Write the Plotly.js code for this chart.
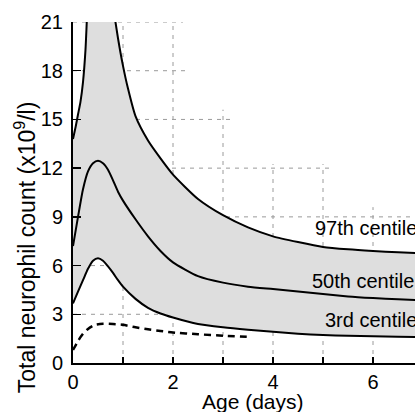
<!DOCTYPE html>
<html>
<head>
<meta charset="utf-8">
<script src="https://cdn.plot.ly/plotly-3.0.1.min.js"></script>
<style>html,body{margin:0;padding:0;background:#fff;}#chart{width:415px;height:412px;}</style>
</head>
<body>
<div id="chart"></div>
<script>
// Age (days) and centile values (x10^9/l)
const age97 = [0, 0.05, 0.1, 0.15, 0.2, 0.25, 0.3, 0.4, 0.5, 0.6, 0.7, 0.8, 0.9, 1.0, 1.1, 1.25, 1.5, 1.75, 2, 2.5, 3, 3.5, 4, 4.5, 5, 5.5, 6, 6.5, 7];
const c97 = [13.8, 14.5, 15.3, 16.1, 17.3, 19.3, 22.5, 25.5, 26.5, 26, 24.2, 22, 20, 18.3, 16.9, 15.2, 13.7, 12.6, 11.6, 10.1, 9.1, 8.35, 7.8, 7.45, 7.15, 7.0, 6.9, 6.82, 6.75];

const age50 = [0, 0.1, 0.2, 0.3, 0.4, 0.5, 0.6, 0.7, 0.8, 0.9, 1.0, 1.25, 1.5, 1.75, 2, 2.5, 3, 3.5, 4, 4.5, 5, 5.5, 6, 6.5, 7];
const c50 = [7.2, 9.0, 10.7, 11.8, 12.3, 12.45, 12.3, 11.9, 11.25, 10.55, 10.0, 8.85, 7.8, 6.9, 6.2, 5.35, 4.95, 4.7, 4.55, 4.4, 4.25, 4.1, 4.0, 3.92, 3.85];

const age3 = [0, 0.1, 0.2, 0.3, 0.4, 0.5, 0.6, 0.7, 0.8, 0.9, 1.0, 1.25, 1.5, 1.75, 2, 2.5, 3, 3.5, 4, 4.5, 5, 5.5, 6, 6.5, 7];
const c3 = [3.67, 4.4, 5.1, 5.8, 6.3, 6.45, 6.3, 5.95, 5.55, 5.1, 4.7, 3.95, 3.4, 3.05, 2.8, 2.4, 2.2, 2.05, 1.92, 1.8, 1.72, 1.68, 1.65, 1.62, 1.6];

const ageLow = [0, 0.1, 0.2, 0.3, 0.44, 0.6, 0.8, 1.0, 1.25, 1.5, 1.75, 2, 2.5, 3, 3.54];
const cLow = [0.8, 1.35, 1.8, 2.1, 2.35, 2.42, 2.4, 2.35, 2.2, 2.08, 1.97, 1.88, 1.77, 1.68, 1.6];

const centileLabels = ["97th centile", "50th centile", "3rd centile"];
const xTickVals = [0, 2, 4, 6];
const xTickText = ["0", "2", "4", "6"];
const xMinorTickVals = [1, 3, 5];
const yTickVals = [0, 3, 6, 9, 12, 15, 18, 21];
const yTickText = ["0", "3", "6", "9", "12", "15", "18", "21"];
const xTitle = "Age (days)";
const yTitle = "Total neurophil count (x10<sup>9</sup>/l)";

// staircase grid (layout geometry)
const gridXs = [1, 2, 3, 4, 5, 6];
const gridXTop = [21.5, 21.5, 15.6, 12.25, 12.25, 9.6];
const gridYs = [3, 6, 9, 12, 15, 18, 21];
const gridYRight = [7, 7, 7, 5.2, 3.24, 2.24, 2.2];

const FONT = "Liberation Sans, Arial, Helvetica, sans-serif";
const lineStyle = {color: "#000", width: 2, shape: "spline", smoothing: 0.6};

const traces = [
  {x: age3, y: c3, mode: "lines", line: lineStyle, hoverinfo: "skip", showlegend: false},
  {x: age97, y: c97, mode: "lines", line: lineStyle, fill: "tonexty", fillcolor: "#dedede", hoverinfo: "skip", showlegend: false},
  {x: age50, y: c50, mode: "lines", line: lineStyle, hoverinfo: "skip", showlegend: false},
  {x: ageLow, y: cLow, mode: "lines", line: {color: "#000", width: 2.5, dash: "7px,5px", shape: "spline", smoothing: 0.6}, hoverinfo: "skip", showlegend: false}
];

const shapes = [];
gridXs.forEach((gx, i) => shapes.push({type: "line", layer: "below", xref: "x", yref: "y", x0: gx, x1: gx, y0: 0, y1: gridXTop[i], line: {color: "#9a9a9a", width: 1, dash: "4px,5px"}}));
gridYs.forEach((gy, i) => shapes.push({type: "line", layer: "below", xref: "x", yref: "y", x0: 0, x1: gridYRight[i], y0: gy, y1: gy, line: {color: "#9a9a9a", width: 1, dash: "4px,5px"}}));

const labelPos = [[4.79, 8.3], [4.74, 5.05], [4.99, 2.65]];
const annotations = centileLabels.map((t, i) => ({
  text: t, x: labelPos[i][0], y: labelPos[i][1], xref: "x", yref: "y",
  xanchor: "left", yanchor: "middle", showarrow: false,
  font: {family: FONT, size: 20, color: "#000"}
}));
annotations.push({
  text: yTitle, textangle: -90,
  xref: "paper", yref: "paper", x: -0.14, y: 0.34, xanchor: "center", yanchor: "middle",
  showarrow: false, font: {family: FONT, size: 23, color: "#000"}
});
annotations.push({
  text: xTitle,
  xref: "paper", yref: "paper", x: 0.526, y: -0.114, xanchor: "center", yanchor: "middle",
  showarrow: false, font: {family: FONT, size: 21, color: "#000"}
});

const layout = {
  width: 415, height: 412,
  margin: {l: 73, r: 0, t: 22, b: 49, pad: 0},
  paper_bgcolor: "#fff", plot_bgcolor: "#fff",
  showlegend: false,
  font: {family: FONT, color: "#000"},
  xaxis: {
    range: [0, 6.84], showgrid: false, zeroline: false,
    showline: true, linecolor: "#000", linewidth: 2,
    ticks: "inside", ticklen: 6, tickwidth: 1.5, tickcolor: "#000",
    tickmode: "array", tickvals: xTickVals, ticktext: xTickText,
    minor: {ticks: "inside", tickmode: "array", tickvals: xMinorTickVals, ticklen: 6, tickwidth: 1.5, tickcolor: "#000", showgrid: false},
    tickfont: {family: FONT, size: 20, color: "#000"}
  },
  yaxis: {
    range: [0, 21], showgrid: false, zeroline: false,
    showline: true, linecolor: "#000", linewidth: 2,
    ticks: "inside", ticklen: 8, tickwidth: 1.5, tickcolor: "#000",
    tickmode: "array", tickvals: yTickVals, ticktext: yTickText,
    tickfont: {family: FONT, size: 20, color: "#000"},
    ticklabelstandoff: 4
  },
  shapes: shapes,
  annotations: annotations
};

Plotly.newPlot("chart", traces, layout, {displayModeBar: false, staticPlot: true});
</script>
</body>
</html>
